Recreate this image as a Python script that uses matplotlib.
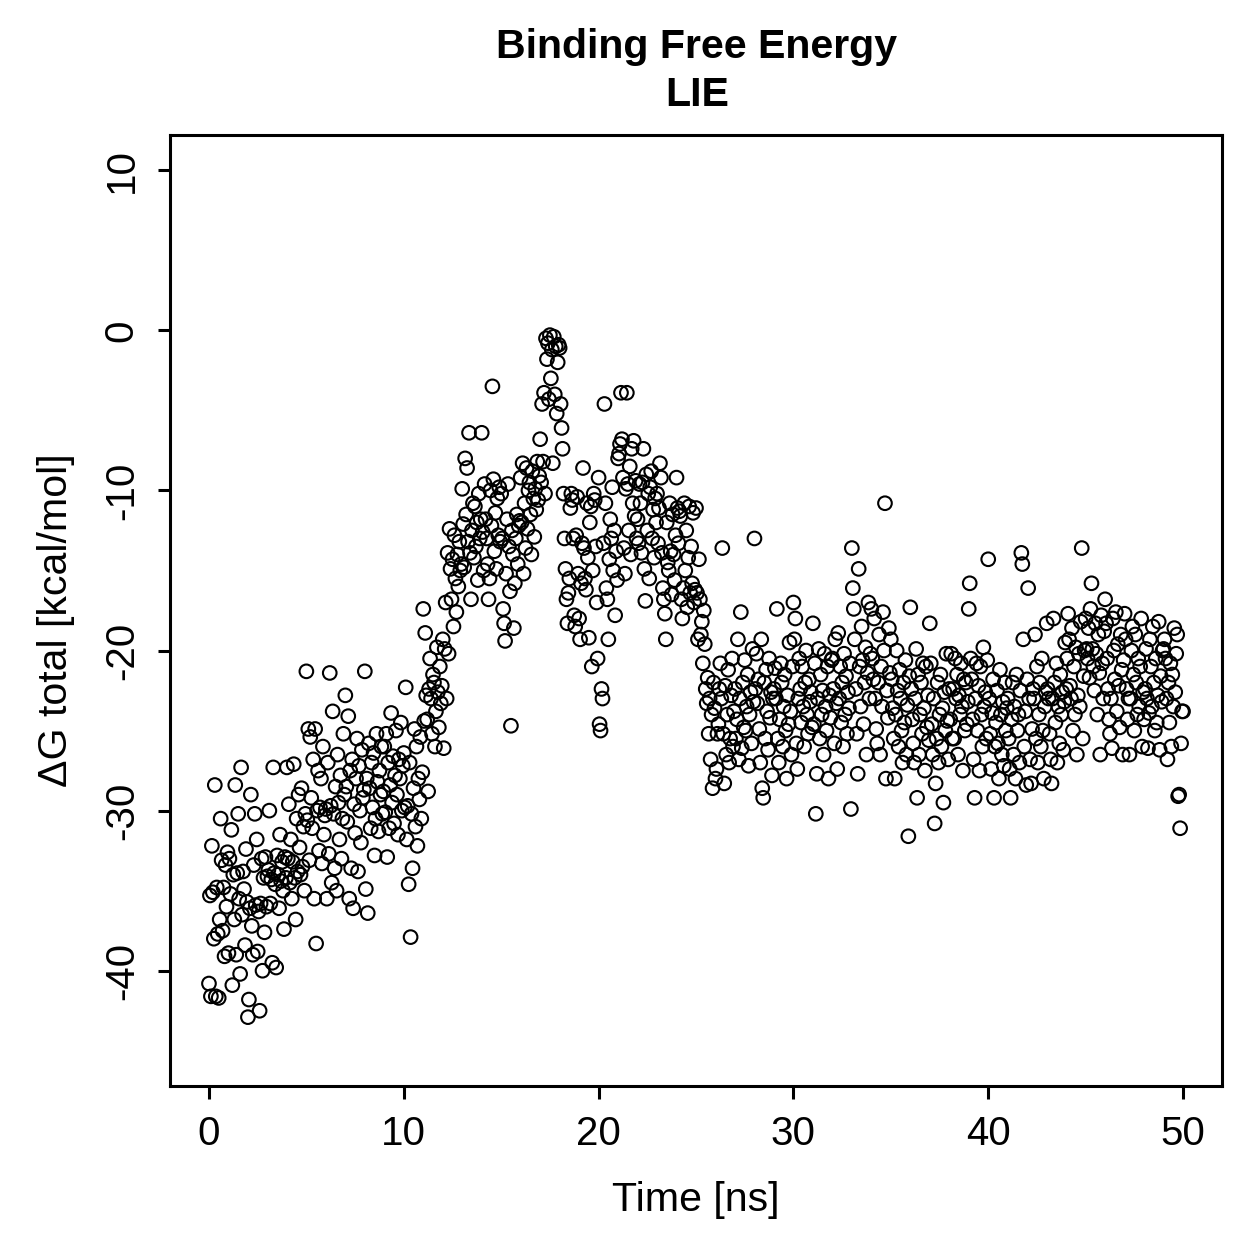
import matplotlib
matplotlib.use("Agg")
import matplotlib.pyplot as plt
import numpy as np

plt.rcParams.update({
    "font.family": ["Liberation Sans", "DejaVu Sans"],
    "font.size": 14.5,
})

# LIE binding free energy trajectory, one sample every 0.05 ns
dt_ns = 0.05
dg_total = [
    -40.8, -35.3, -41.6, -32.2, -35.1, -38.0, -28.4, -41.6, -34.8, -37.7, -41.7, -36.8, -30.5, -33.1, -37.5, -34.8, -39.1, -33.4, -36.0, -32.6,
    -38.9, -33.0, -35.2, -31.2, -40.9, -34.0, -36.8, -28.4, -39.0, -33.9, -30.2, -35.5, -40.2, -27.3, -36.5, -33.8, -34.9, -38.4, -32.4, -35.7,
    -42.9, -41.8, -36.1, -29.0, -37.2, -39.0, -33.4, -30.2, -35.9, -31.8, -38.8, -36.3, -42.5, -35.8, -33.0, -40.0, -34.2, -37.6, -32.9, -36.0,
    -34.1, -33.7, -30.0, -35.8, -34.3, -39.5, -27.3, -33.9, -34.6, -39.8, -32.8, -34.0, -36.1, -31.5, -34.4, -33.2, -35.0, -37.4, -32.9, -34.2,
    -27.3, -33.0, -29.6, -34.5, -31.8, -35.5, -33.2, -27.1, -34.2, -36.8, -30.5, -33.8, -29.0, -32.3, -34.0, -28.6, -33.5, -31.0, -35.0, -30.2,
    -21.3, -30.6, -24.9, -33.1, -25.4, -29.2, -31.1, -26.8, -35.5, -24.9, -38.3, -30.0, -27.5, -32.5, -29.8, -28.0, -33.3, -26.0, -31.5, -30.3,
    -29.9, -35.5, -27.0, -32.7, -21.4, -29.7, -34.5, -23.8, -30.2, -33.6, -28.5, -35.0, -26.5, -29.5, -31.8, -27.8, -33.0, -30.5, -25.2, -29.0,
    -22.8, -28.5, -30.7, -24.1, -35.5, -27.5, -33.6, -26.8, -36.1, -29.6, -31.4, -28.0, -25.5, -33.8, -27.2, -30.0, -32.0, -26.2, -29.2, -28.7,
    -21.3, -34.9, -28.0, -36.4, -25.8, -28.6, -31.1, -27.0, -29.8, -26.4, -32.8, -30.5, -25.2, -28.2, -31.3, -27.5, -29.0, -26.0, -30.2, -28.8,
    -26.0, -30.1, -25.2, -32.9, -27.0, -31.1, -28.4, -23.9, -29.5, -26.6, -30.8, -27.8, -25.0, -29.0, -31.5, -26.8, -28.0, -24.5, -30.0, -27.2,
    -26.4, -29.8, -22.3, -31.8, -29.7, -34.6, -27.0, -37.9, -30.2, -33.6, -28.6, -24.9, -31.0, -26.0, -32.2, -28.0, -29.3, -25.4, -30.5, -27.6,
    -17.4, -24.4, -18.9, -22.8, -24.3, -28.8, -22.4, -20.5, -23.0, -25.2, -21.5, -22.0, -26.0, -23.8, -19.8, -22.6, -24.8, -21.0, -23.3, -22.2,
    -19.3, -26.1, -19.9, -17.0, -23.0, -13.9, -20.2, -12.4, -14.9, -16.8, -14.3, -18.5, -12.8, -15.5, -17.6, -14.0, -16.0, -13.2, -15.0, -14.6,
    -9.9, -12.1, -14.8, -8.0, -11.5, -8.6, -13.2, -6.4, -13.9, -16.8, -12.5, -10.8, -14.2, -11.0, -13.5, -12.0, -15.6, -10.2, -13.0, -11.8,
    -6.4, -12.6, -15.0, -9.6, -11.8, -13.0, -14.6, -16.8, -15.5, -10.0, -12.2, -3.5, -9.3, -13.8, -11.4, -14.9, -10.5, -12.8, -9.8, -13.2,
    -10.2, -13.0, -17.4, -18.3, -19.4, -15.2, -11.8, -9.6, -13.5, -16.3, -24.7, -12.5, -14.0, -18.6, -15.8, -13.0, -11.5, -14.6, -12.2, -11.9,
    -9.2, -12.0, -8.3, -15.2, -10.8, -13.6, -8.6, -12.4, -10.0, -9.5, -11.5, -14.0, -8.8, -10.5, -12.9, -9.9, -11.2, -8.2, -10.6, -9.1,
    -6.8, -9.5, -4.6, -8.2, -3.9, -10.2, -0.5, -1.8, -0.8, -4.3, -0.3, -3.0, -1.2, -8.3, -0.4, -4.0, -1.0, -5.2, -2.0, -0.9,
    -1.1, -4.6, -6.1, -7.4, -10.2, -13.0, -14.9, -16.8, -18.3, -16.4, -15.5, -11.1, -10.2, -10.6, -13.0, -17.8, -18.5, -12.8, -10.4, -15.2,
    -18.0, -19.3, -15.8, -13.3, -8.6, -13.6, -15.5, -16.2, -10.8, -14.2, -19.2, -12.0, -11.0, -21.0, -15.0, -10.2, -10.6, -13.5, -17.0, -20.5,
    -9.2, -24.6, -25.0, -22.4, -23.0, -13.3, -4.6, -10.8, -16.1, -16.8, -19.3, -14.3, -11.8, -13.0, -9.8, -15.0, -12.5, -17.8, -13.8, -15.6,
    -8.0, -7.7, -7.1, -3.9, -6.8, -9.2, -13.6, -15.2, -9.9, -3.9, -9.6, -12.5, -8.5, -14.0, -7.4, -10.8, -6.9, -11.6, -9.4, -13.0,
    -11.8, -13.3, -9.6, -10.8, -13.9, -9.5, -7.4, -14.9, -16.9, -9.0, -12.5, -10.2, -15.5, -9.8, -8.8, -13.0, -11.2, -14.2, -10.5, -12.0,
    -10.2, -13.3, -11.1, -8.3, -9.2, -13.9, -16.1, -16.8, -17.7, -19.3, -12.0, -14.5, -15.0, -10.8, -13.8, -16.5, -11.5, -14.0, -15.6, -12.8,
    -9.2, -11.1, -13.3, -11.3, -11.6, -16.8, -18.0, -16.1, -10.8, -15.0, -12.5, -17.3, -14.2, -11.0, -16.4, -13.5, -15.8, -11.4, -17.0, -16.2,
    -11.1, -16.4, -19.3, -14.3, -16.8, -19.0, -18.2, -20.8, -17.5, -19.6, -22.4, -23.3, -21.7, -25.2, -23.0, -26.8, -24.0, -28.6, -22.0, -23.6,
    -28.0, -27.4, -25.2, -24.6, -22.4, -20.8, -23.0, -13.6, -25.2, -28.3, -22.2, -26.5, -24.0, -21.2, -27.0, -25.5, -22.8, -20.5, -26.0, -23.8,
    -22.4, -25.5, -24.3, -19.3, -26.8, -23.0, -17.6, -26.1, -22.0, -24.8, -20.6, -25.0, -23.5, -21.5, -27.2, -24.0, -22.6, -25.8, -19.9, -23.2,
    -13.0, -22.4, -20.2, -23.3, -21.8, -24.9, -27.0, -19.3, -28.6, -29.2, -22.0, -25.5, -21.2, -23.8, -26.2, -20.5, -24.2, -22.6, -27.8, -23.0,
    -22.4, -21.1, -23.0, -17.4, -25.5, -27.0, -24.3, -20.8, -22.0, -26.0, -23.5, -21.5, -25.0, -28.0, -22.8, -24.6, -19.5, -23.8, -26.5, -21.0,
    -17.0, -19.3, -18.0, -25.8, -27.4, -23.0, -20.5, -22.4, -24.5, -21.0, -23.5, -26.0, -22.0, -20.0, -24.0, -25.2, -21.8, -23.2, -22.6, -24.8,
    -18.3, -24.6, -20.8, -30.2, -27.7, -23.0, -19.9, -25.5, -21.5, -24.0, -22.5, -26.5, -20.2, -23.5, -25.0, -21.0, -28.0, -22.8, -24.2, -20.6,
    -20.5, -22.4, -25.8, -19.3, -23.3, -27.4, -18.9, -23.0, -21.0, -24.5, -22.0, -26.0, -20.2, -24.0, -21.6, -25.2, -22.6, -23.6, -20.8, -29.9,
    -13.6, -16.1, -17.4, -19.3, -22.4, -25.2, -27.7, -14.9, -21.0, -23.5, -18.5, -20.6, -24.6, -22.0, -19.8, -26.5, -21.4, -17.0, -23.0, -20.2,
    -17.4, -20.5, -21.8, -18.0, -23.0, -24.9, -25.8, -22.0, -19.0, -26.5, -21.0, -23.5, -17.6, -20.0, -10.8, -28.0, -22.5, -24.2, -18.6, -21.4,
    -19.3, -21.8, -23.6, -25.5, -28.0, -24.0, -20.0, -22.5, -26.0, -21.2, -23.0, -25.0, -27.0, -22.0, -24.5, -20.6, -26.5, -23.4, -31.6, -21.6,
    -17.3, -22.4, -24.3, -25.8, -27.0, -23.0, -19.9, -29.2, -21.5, -26.5, -24.0, -22.0, -25.2, -20.8, -23.6, -27.5, -21.0, -24.8, -22.8, -25.6,
    -18.3, -20.8, -24.6, -26.5, -23.0, -30.8, -28.3, -25.5, -22.0, -27.0, -24.0, -21.5, -26.0, -23.6, -29.5, -22.6, -25.0, -20.2, -24.4, -26.8,
    -22.4, -24.3, -20.2, -25.5, -22.4, -25.5, -20.5, -23.0, -21.5, -26.5, -22.8, -24.0, -20.8, -23.5, -27.5, -21.8, -25.0, -22.0, -24.6, -23.2,
    -17.4, -15.8, -20.5, -21.8, -24.3, -26.8, -29.2, -23.0, -20.8, -25.0, -22.2, -27.5, -21.0, -24.0, -26.0, -19.8, -23.5, -22.6, -25.5, -20.6,
    -14.3, -23.0, -25.2, -27.4, -23.9, -21.8, -29.2, -26.0, -24.5, -22.5, -25.8, -28.0, -21.2, -24.0, -26.5, -23.2, -27.2, -22.0, -25.0, -23.6,
    -23.0, -25.5, -27.4, -29.2, -24.3, -22.0, -26.5, -23.5, -28.0, -21.5, -25.0, -24.0, -27.0, -22.5, -13.9, -14.6, -19.3, -26.0, -23.8, -28.4,
    -21.8, -16.1, -23.0, -26.8, -28.3, -24.9, -22.4, -23.0, -19.0, -25.5, -21.0, -27.0, -24.0, -22.0, -26.0, -20.5, -25.0, -28.0, -23.5, -22.6,
    -18.3, -22.4, -23.0, -25.2, -26.8, -28.3, -23.0, -18.0, -22.0, -24.5, -20.8, -27.0, -23.5, -25.8, -21.5, -24.0, -22.6, -26.2, -23.2, -19.5,
    -22.4, -20.5, -17.7, -19.3, -22.2, -23.0, -18.6, -25.0, -21.0, -24.0, -19.8, -26.5, -22.8, -20.2, -23.5, -18.2, -13.6, -25.5, -21.6, -20.0,
    -18.0, -19.9, -20.5, -18.6, -21.7, -17.4, -15.8, -19.9, -21.0, -22.5, -18.3, -20.2, -24.0, -19.0, -21.4, -26.5, -17.8, -20.8, -23.0, -18.8,
    -16.8, -18.3, -20.5, -22.4, -24.3, -25.2, -23.0, -26.1, -18.0, -20.0, -21.8, -17.6, -23.8, -19.6, -22.2, -24.8, -19.0, -21.2, -26.5, -20.6,
    -17.7, -19.3, -22.4, -24.3, -23.0, -26.5, -23.0, -20.0, -18.5, -21.5, -25.0, -19.0, -22.0, -24.0, -20.5, -23.5, -21.0, -18.0, -26.0, -22.6,
    -24.3, -22.4, -19.9, -23.0, -26.1, -23.9, -19.3, -21.0, -23.5, -18.5, -22.0, -25.0, -20.5, -24.5, -22.8, -18.2, -26.2, -21.6, -23.2, -20.0,
    -19.9, -19.3, -20.5, -23.0, -26.8, -22.0, -24.5, -20.8, -26.0, -21.5, -23.5, -18.6, -22.6, -20.2, -19.0, -29.1, -29.0, -31.1, -25.8, -23.8,
    -23.8,
]
time_ns = np.arange(len(dg_total)) * dt_ns

x_ticks = [0, 10, 20, 30, 40, 50]
y_ticks = [-40, -30, -20, -10, 0, 10]

W = 1259
fig = plt.figure(figsize=(W / 200, W / 200), dpi=200)
ax = fig.add_axes([170 / W, 1 - 1086 / W, (1222 - 170) / W, (1086 - 135) / W])

ax.scatter(time_ns, dg_total, s=24, facecolors="none", edgecolors="black", linewidths=0.75)

ax.set_xlim(-2, 52)
ax.set_ylim(-47.2, 12.2)
ax.set_xticks(x_ticks)
ax.set_yticks(y_ticks)
ax.set_yticklabels([str(v) for v in y_ticks], rotation=90, va="center")
ax.tick_params(direction="out", length=4.5, width=1.1, labelsize=14.5, pad=6)
for sp in ax.spines.values():
    sp.set_linewidth(1.1)

fig.text(697 / W, 1 - 47 / W, "Binding Free Energy", ha="center", va="center",
         fontsize=14.8, fontweight="bold")
fig.text(697 / W, 1 - 95 / W, "LIE", ha="center", va="center",
         fontsize=14.8, fontweight="bold")
fig.text(696 / W, 1 - 1200 / W, "Time [ns]", ha="center", va="center", fontsize=14.8)
fig.text(56 / W, 1 - 620 / W, "ΔG total [kcal/mol]", ha="center", va="center",
         rotation=90, fontsize=14.8)

fig.savefig("out.png", dpi=200)
